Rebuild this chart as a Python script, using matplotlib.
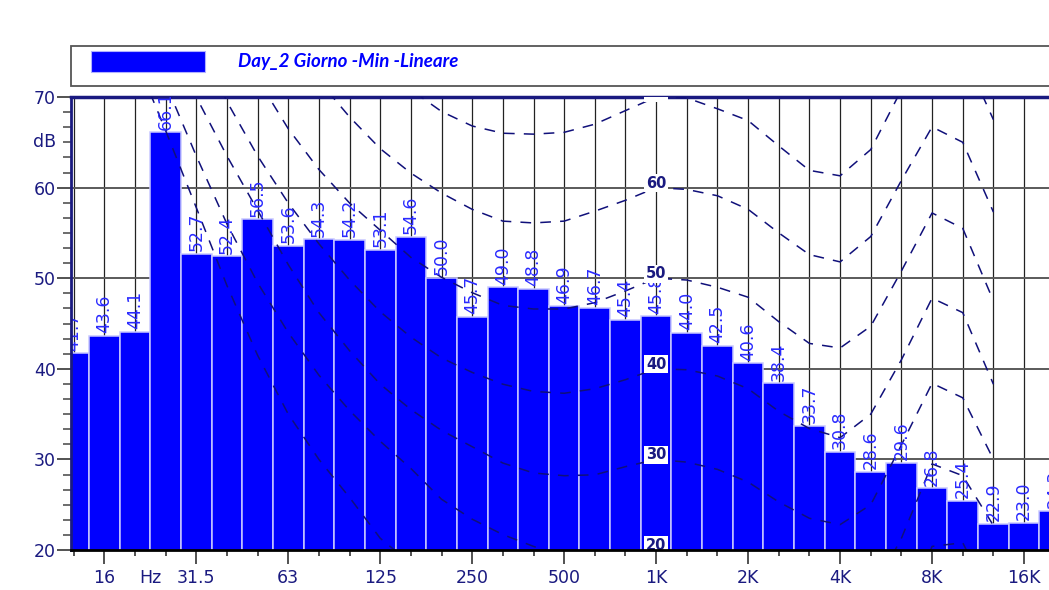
import numpy as np
import matplotlib
matplotlib.use("Agg")
import matplotlib.pyplot as plt
from matplotlib.patches import Rectangle
from matplotlib.ticker import FixedLocator, MultipleLocator

# third-octave bands, 12.5 Hz .. 20 kHz (index = position on the x axis)
bands = ["12.5", "16", "20", "25", "31.5", "40", "50", "63", "80", "100", "125", "160",
         "200", "250", "315", "400", "500", "630", "800", "1K", "1.25K", "1.6K", "2K",
         "2.5K", "3.15K", "4K", "5K", "6.3K", "8K", "10K", "12.5K", "16K", "20K"]
levels = [41.7, 43.6, 44.1, 66.1, 52.7, 52.4, 56.5, 53.6, 54.3, 54.2, 53.1, 54.6,
          50.0, 45.7, 49.0, 48.8, 46.9, 46.7, 45.4, 45.8, 44.0, 42.5, 40.6, 38.4,
          33.7, 30.8, 28.6, 29.6, 26.8, 25.4, 22.9, 23.0, 24.3]

tick_idx = [1, 4, 7, 10, 13, 16, 19, 22, 25, 28, 31]
tick_lab = ["16", "31.5", "63", "125", "250", "500", "1K", "2K", "4K", "8K", "16K"]

# equal loudness contours, values from 20 Hz (index 2) to 12.5 kHz (index 30)
curve_idx = list(range(2, 31))
contours = {
    10: [74.5, 66.3, 57.8, 49.2, 41.5, 35.0, 30.0, 25.8, 21.3, 18.5, 16.5, 14.5, 12.5, 11,
         10, 9, 9, 10, 9.5, 8.5, 7, 5, 3.5, 3, 5, 12, 20.4, 20.8, 14],
    20: [79, 71.5, 63.5, 56, 49.5, 44, 39.3, 35.4, 32, 29.0, 25.6, 23.4, 21.7, 20.4, 19.2,
         18.6, 18.9, 20, 19.7, 18.9, 17.3, 15, 13.5, 12.8, 15, 21.3, 29.5, 28.2, 22.7],
    30: [84, 76, 70, 63.5, 57.5, 51.5, 46.2, 42, 38.3, 35.5, 33.2, 31.4, 29.6, 28.5, 28.2,
         28.3, 29.2, 30, 29.7, 28.9, 27.5, 25.3, 23.5, 22.8, 25.0, 31.6, 38.4, 36.8, 30.0],
    40: [90, 84, 77, 69.5, 63.5, 58.3, 53.8, 49.8, 46.3, 43.5, 41.2, 39.6, 38.3, 37.5, 37.3,
         37.8, 38.8, 40, 39.9, 39.2, 37.8, 35.3, 33.4, 32.4, 35.0, 41.0, 47.8, 46.2, 38.3],
    50: [96, 90, 85, 78, 72, 66.5, 62, 58.3, 55.3, 52.3, 50.1, 48.4, 47.0, 46.6, 46.6,
         47.3, 48.6, 50, 49.8, 49.0, 47.9, 45.2, 42.8, 42.3, 44.7, 50.8, 57.2, 55.5, 47.5],
    60: [102, 97, 92, 86, 80, 75.5, 71.8, 67.8, 64.3, 61.6, 59.4, 57.6, 56.3, 56.1, 56.3,
         57.4, 58.6, 60, 59.8, 59.1, 57.6, 55.0, 52.6, 51.8, 54.6, 60.8, 66.7, 65.0, 57.3],
    70: [108, 103, 98, 93, 88, 84, 80, 76.5, 73.2, 70.8, 68.4, 66.8, 66.0, 65.9, 66.1,
         67.0, 68.5, 70, 69.9, 68.7, 67.4, 64.6, 61.9, 61.3, 64.2, 70.8, 76.7, 75.0, 67.5],
}

navy = "#1a1a80"
W, H = 1049, 590
fig = plt.figure(figsize=(W / 100, H / 100), dpi=100)

# plot area: 12.5 Hz centre sits at x=73.6 px, one band = 30.66 px
x0 = -0.085
x1 = 32.95
left_px, bottom_px, top_px = 71, 550, 97
width_px = (x1 - x0) * 30.66
ax = fig.add_axes([left_px / W, (H - bottom_px) / H, width_px / W, (bottom_px - top_px) / H])
ax.set_xlim(x0, x1)
ax.set_ylim(20, 70)

# grid behind bars
for i in range(len(bands)):
    ax.axvline(i, color="#222222", lw=0.9, zorder=0)
for yv in [30, 40, 50, 60]:
    ax.axhline(yv, color="#5a5a5a", lw=1.4, zorder=0.5)

x = np.arange(len(levels))
ax.bar(x, levels, width=1.0, bottom=0, color="#0000ff", edgecolor="#c8c8ff",
       linewidth=1.1, zorder=2)

for k, vals in contours.items():
    ax.plot(curve_idx, vals, color="#10107a", lw=1.1, ls=(0, (7, 6)), zorder=3)
    ax.text(19, k, str(k), color=navy, fontsize=10.5, fontweight="bold", ha="center",
            va="baseline", zorder=5, clip_on=True,
            bbox=dict(facecolor="white", edgecolor="none", pad=1.2))

for i, v in enumerate(levels):
    ax.text(i, v + 0.3, f"{v:.1f}", rotation=90, ha="center", va="bottom",
            color="#2a2aff", fontsize=12.5, zorder=4, clip_on=True)

# axes styling
ax.spines["right"].set_visible(False)
ax.spines["top"].set_color(navy)
ax.spines["top"].set_linewidth(2.5)
ax.spines["left"].set_color(navy)
ax.spines["left"].set_linewidth(2)
ax.spines["bottom"].set_color("black")
ax.spines["bottom"].set_linewidth(2)
ax.spines["left"].set_zorder(6)
ax.spines["bottom"].set_zorder(6)

ax.yaxis.set_major_locator(FixedLocator([20, 30, 40, 50, 60, 70]))
ax.yaxis.set_minor_locator(MultipleLocator(10 / 6))
ax.tick_params(axis="y", which="major", length=10, width=1.3, color="#444444",
               labelsize=12.5, labelcolor=navy, pad=1)
ax.tick_params(axis="y", which="minor", length=5.5, width=1.1, color="#444444")

ax.xaxis.set_major_locator(FixedLocator(tick_idx))
ax.set_xticklabels(tick_lab)
ax.xaxis.set_minor_locator(FixedLocator(list(range(len(bands)))))
ax.tick_params(axis="x", which="major", length=10, width=1.1, color="#222222",
               labelsize=12.5, labelcolor=navy, pad=4)
ax.tick_params(axis="x", which="minor", length=4.5, width=1.1, color="#222222")

ax.annotate("dB", xy=(x0, 65), xycoords="data", xytext=(-11, 0),
            textcoords="offset points", ha="right", va="center",
            color=navy, fontsize=12.5, annotation_clip=False)
ax.annotate("Hz", xy=(2.5, 20), xycoords="data", xytext=(0, -14),
            textcoords="offset points", ha="center", va="top",
            color=navy, fontsize=12.5, annotation_clip=False)

# legend box
fig.patches.append(Rectangle((71 / W, (H - 86) / H), 1.0, 40 / H, transform=fig.transFigure,
                             facecolor="white", edgecolor="#555555", lw=1.3))
fig.patches.append(Rectangle((91 / W, (H - 72) / H), 114 / W, 21 / H, transform=fig.transFigure,
                             facecolor="#0000ff", edgecolor="#b0b0ff", lw=0.8))
fig.text(238 / W, (H - 61) / H, "Day_2 Giorno -Min -Lineare", color="#0000ff",
         fontsize=13.5, fontweight="bold", fontstyle="italic", family=["Lato", "DejaVu Sans"],
         ha="left", va="center")

fig.savefig("out.png", dpi=100)
